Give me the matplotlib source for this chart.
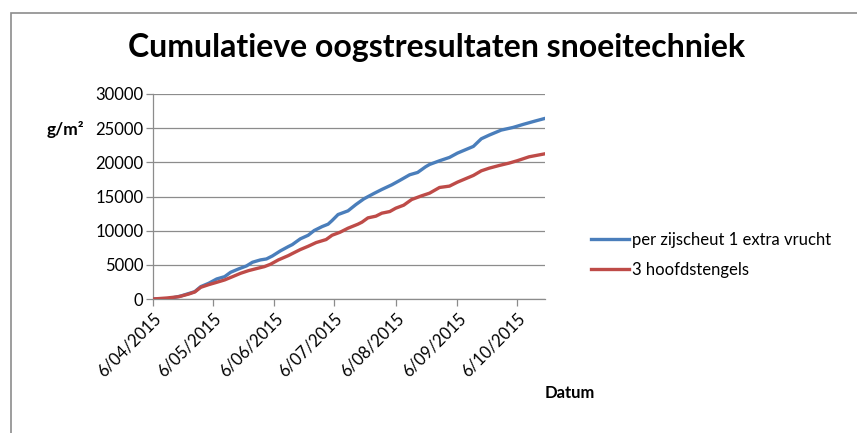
import pandas as pd
import matplotlib.pyplot as plt
from matplotlib.patches import Rectangle

# oogstdata (cumulatief, g/m2)
dates_blue = ["2015-04-06", "2015-04-14", "2015-04-20", "2015-04-27", "2015-04-30",
              "2015-05-04", "2015-05-08", "2015-05-12", "2015-05-15", "2015-05-19",
              "2015-05-23", "2015-05-26", "2015-05-30", "2015-06-02", "2015-06-05",
              "2015-06-09", "2015-06-13", "2015-06-15", "2015-06-19", "2015-06-23",
              "2015-06-26", "2015-06-30", "2015-07-03", "2015-07-05", "2015-07-08",
              "2015-07-13", "2015-07-17", "2015-07-21", "2015-07-26", "2015-07-30",
              "2015-08-04", "2015-08-08", "2015-08-13", "2015-08-17", "2015-08-21",
              "2015-08-23", "2015-08-28", "2015-09-02", "2015-09-06", "2015-09-10",
              "2015-09-14", "2015-09-18", "2015-09-22", "2015-09-28", "2015-10-04",
              "2015-10-09", "2015-10-15", "2015-10-20"]
values_blue = [0, 50, 440, 1075, 1810, 2300, 2930, 3270, 3910, 4400,
               4840, 5380, 5720, 5860, 6300, 7040, 7670, 7960, 8800, 9330,
               10020, 10600, 10950, 11480, 12360, 12900, 13830, 14660, 15440, 16030,
               16710, 17350, 18180, 18520, 19350, 19690, 20230, 20720, 21350, 21840,
               22330, 23450, 23990, 24720, 25110, 25550, 26040, 26430]

dates_red = ["2015-04-06", "2015-04-13", "2015-04-19", "2015-04-24", "2015-04-27",
             "2015-04-30", "2015-05-04", "2015-05-08", "2015-05-12", "2015-05-16",
             "2015-05-20", "2015-05-24", "2015-05-28", "2015-06-01", "2015-06-04",
             "2015-06-08", "2015-06-13", "2015-06-15", "2015-06-19", "2015-06-23",
             "2015-06-27", "2015-07-02", "2015-07-05", "2015-07-09", "2015-07-13",
             "2015-07-18", "2015-07-20", "2015-07-23", "2015-07-27", "2015-07-30",
             "2015-08-03", "2015-08-06", "2015-08-10", "2015-08-14", "2015-08-19",
             "2015-08-23", "2015-08-28", "2015-09-02", "2015-09-06", "2015-09-10",
             "2015-09-14", "2015-09-18", "2015-09-22", "2015-09-27", "2015-10-02",
             "2015-10-06", "2015-10-12", "2015-10-20"]
values_red = [0, 150, 340, 730, 1030, 1710, 2100, 2440, 2790, 3270,
              3760, 4150, 4450, 4740, 5080, 5720, 6350, 6650, 7230, 7720,
              8260, 8700, 9330, 9770, 10360, 10950, 11240, 11870, 12120, 12560,
              12800, 13290, 13730, 14560, 15100, 15490, 16320, 16520, 17100, 17590,
              18080, 18760, 19150, 19540, 19890, 20230, 20810, 21250]

tick_dates = ["2015-04-06", "2015-05-06", "2015-06-06", "2015-07-06",
              "2015-08-06", "2015-09-06", "2015-10-06"]
tick_labels = ["6/04/2015", "6/05/2015", "6/06/2015", "6/07/2015",
               "6/08/2015", "6/09/2015", "6/10/2015"]

label_blue = "per zijscheut 1 extra vrucht"
label_red = "3 hoofdstengels"

plt.rcParams['font.family'] = ['Lato', 'DejaVu Sans']

fig = plt.figure(figsize=(8.57, 4.33), dpi=100)
ax = fig.add_axes([153 / 857, 1 - 299 / 433, (545 - 153) / 857, (299 - 94) / 433])

ax.plot(pd.to_datetime(dates_blue), values_blue, color='#4A7EBB', lw=2.4,
        label=label_blue, solid_joinstyle='round', zorder=3)
ax.plot(pd.to_datetime(dates_red), values_red, color='#BE4B48', lw=2.4,
        label=label_red, solid_joinstyle='round', zorder=4)

ax.set_ylim(0, 30000)
ax.set_yticks(range(0, 30001, 5000))
ax.set_xlim(pd.Timestamp("2015-04-06"), pd.Timestamp("2015-10-20"))
ax.set_xticks(pd.to_datetime(tick_dates))
ax.set_xticklabels(tick_labels, rotation=45, ha='right', va='top', rotation_mode='anchor')

ax.grid(axis='y', color='#8c8c8c', lw=0.9)
ax.set_axisbelow(True)
for s in ['top', 'right']:
    ax.spines[s].set_visible(False)
for s in ['left', 'bottom']:
    ax.spines[s].set_color('#8c8c8c')
    ax.spines[s].set_linewidth(0.9)
ax.tick_params(axis='both', colors='#8c8c8c', length=5, width=0.9, labelsize=12,
               labelcolor='black')
ax.tick_params(axis='x', pad=3)
ax.tick_params(axis='y', pad=2)

fig.text(437 / 857, 1 - 47 / 433, "Cumulatieve oogstresultaten snoeitechniek",
         ha='center', va='center', fontsize=23, fontweight='bold')
fig.text(47 / 857, 1 - 129 / 433, "g/m²", ha='left', va='center',
         fontsize=12.5, fontweight='bold')
fig.text(545 / 857, 1 - 393 / 433, "Datum", ha='left', va='center',
         fontsize=12, fontweight='bold')

ax.legend(loc='center left', bbox_to_anchor=(576 / 857, 1 - 255 / 433),
          bbox_transform=fig.transFigure, frameon=False, fontsize=12,
          handlelength=2.3, handletextpad=0.15, labelspacing=0.85)

fig.patches.append(Rectangle((11 / 857, -0.1), 1.2, 1 - 13 / 433 + 0.1,
                             transform=fig.transFigure, fill=False,
                             edgecolor='#8c8c8c', lw=1.2))

fig.savefig("out.png", dpi=100)
